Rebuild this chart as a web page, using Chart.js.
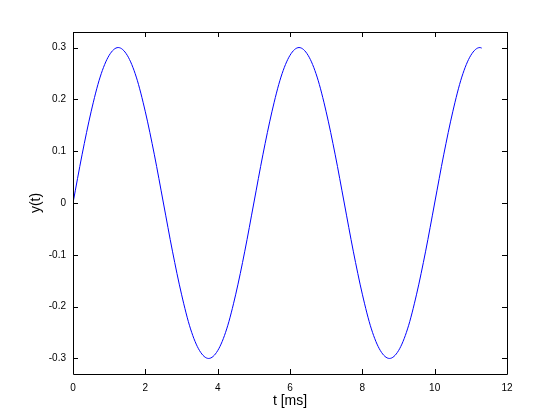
<!DOCTYPE html>
<html>
<head>
  <meta charset="UTF-8" />
  <title>y(t)</title>
  <script src="https://cdn.jsdelivr.net/npm/chart.js"></script>
  <style>
    html, body { margin: 0; padding: 0; background: #fff; }
    #wrap { width: 560px; height: 420px; }
  </style>
</head>
<body>
  <div id="wrap"><canvas id="c" width="560" height="420"></canvas></div>
  <script>
    // time in ms
    const tValues = [
      0, 0.25, 0.5, 0.75, 1, 1.25, 1.5, 1.75, 2, 2.25,
      2.5, 2.75, 3, 3.25, 3.5, 3.75, 4, 4.25, 4.5, 4.75,
      5, 5.25, 5.5, 5.75, 6, 6.25, 6.5, 6.75, 7, 7.25,
      7.5, 7.75, 8, 8.25, 8.5, 8.75, 9, 9.25, 9.5, 9.75,
      10, 10.25, 10.5, 10.75, 11, 11.25, 11.3
    ];
    const yValues = [
      0, 0.093, 0.176, 0.243, 0.285, 0.300, 0.285, 0.243, 0.176, 0.093,
      0, -0.093, -0.176, -0.243, -0.285, -0.300, -0.285, -0.243, -0.176, -0.093,
      0, 0.093, 0.176, 0.243, 0.285, 0.300, 0.285, 0.243, 0.176, 0.093,
      0, -0.093, -0.176, -0.243, -0.285, -0.300, -0.285, -0.243, -0.176, -0.093,
      0, 0.093, 0.176, 0.243, 0.285, 0.300, 0.299
    ];
    const xTicks = [0, 2, 4, 6, 8, 10, 12];
    const yTicks = [-0.3, -0.2, -0.1, 0, 0.1, 0.2, 0.3];
    const yTickLabels = ["-0.3", "-0.2", "-0.1", "0", "0.1", "0.2", "0.3"];

    const tickFont = { family: "Liberation Sans, Helvetica, Arial", size: 10 };
    const titleFont = { family: "Liberation Sans, Helvetica, Arial", size: 14 };

    // box around the axes and inward ticks on all four sides, like matlab
    const boxTicks = {
      id: "boxTicks",
      afterDraw(chart) {
        const { ctx, chartArea: a, scales } = chart;
        const len = 5;
        ctx.save();
        ctx.strokeStyle = "#000";
        ctx.lineWidth = 1;
        ctx.beginPath();
        ctx.rect(a.left + 0.5, a.top + 0.5, a.right - a.left, a.bottom - a.top);
        xTicks.forEach(v => {
          const x = Math.round(scales.x.getPixelForValue(v)) + 0.5;
          ctx.moveTo(x, a.bottom); ctx.lineTo(x, a.bottom - len);
          ctx.moveTo(x, a.top); ctx.lineTo(x, a.top + len);
        });
        yTicks.forEach(v => {
          const y = Math.round(scales.y.getPixelForValue(v)) + 0.5;
          ctx.moveTo(a.left, y); ctx.lineTo(a.left + len, y);
          ctx.moveTo(a.right, y); ctx.lineTo(a.right - len, y);
        });
        ctx.stroke();
        ctx.restore();
      }
    };

    new Chart(document.getElementById("c"), {
      type: "line",
      data: {
        datasets: [{
          data: tValues.map((t, i) => ({ x: t, y: yValues[i] })),
          borderColor: "#0000ff",
          borderWidth: 1,
          pointRadius: 0,
          cubicInterpolationMode: "monotone",
          fill: false
        }]
      },
      options: {
        responsive: false,
        animation: false,
        layout: { padding: { top: 32, right: 53, left: 0, bottom: 0 } },
        plugins: { legend: { display: false }, tooltip: { enabled: false } },
        scales: {
          x: {
            type: "linear",
            min: 0,
            max: 12,
            afterBuildTicks: s => { s.ticks = xTicks.map(v => ({ value: v })); },
            afterFit: s => { s.height = 46; },
            grid: { display: false, drawTicks: false },
            border: { display: false },
            ticks: { color: "#000", font: tickFont, padding: 8, maxRotation: 0 },
            title: { display: true, text: "t [ms]", color: "#000", font: titleFont, padding: { top: 0, bottom: 10 } }
          },
          y: {
            type: "linear",
            min: -0.33,
            max: 0.33,
            afterBuildTicks: s => { s.ticks = yTicks.map(v => ({ value: v })); },
            afterFit: s => { s.width = 73; },
            grid: { display: false, drawTicks: false },
            border: { display: false },
            ticks: {
              color: "#000", font: tickFont, padding: 7,
              callback: (v, i) => yTickLabels[i]
            },
            title: { display: true, text: "y(t)", color: "#000", font: titleFont, padding: { top: 28, bottom: 0 } }
          }
        }
      },
      plugins: [boxTicks]
    });
  </script>
</body>
</html>
